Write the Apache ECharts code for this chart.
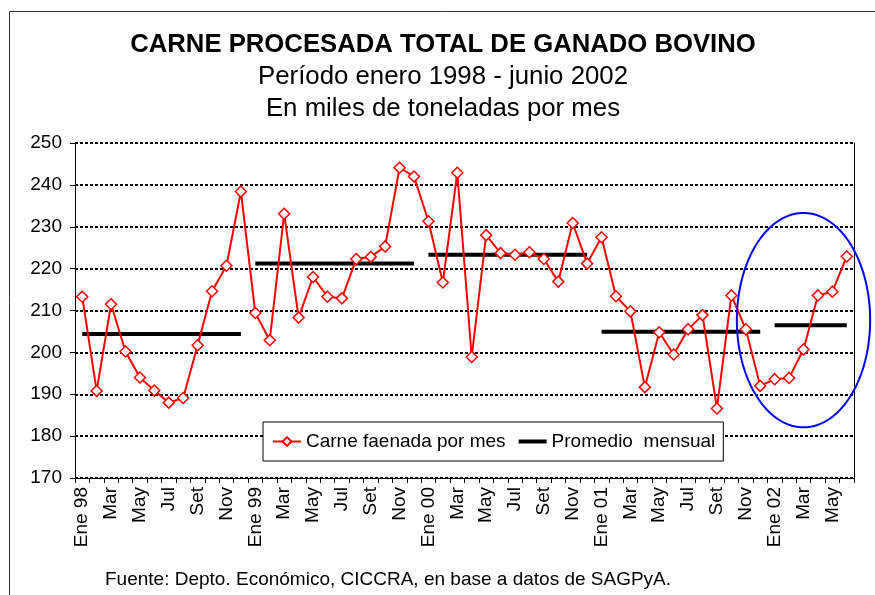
<!DOCTYPE html>
<html>
<head>
<meta charset="utf-8">
<script src="https://cdn.jsdelivr.net/npm/echarts@6/dist/echarts.min.js"></script>
<style>
html,body{margin:0;padding:0;background:#fff;}
#main{width:875px;height:595px;}
</style>
</head>
<body>
<div id="main"></div>
<script>
// ---- Data ----
const monthNames = ['Ene','Feb','Mar','Abr','May','Jun','Jul','Ago','Set','Oct','Nov','Dic'];
const years = ['98','99','00','01','02'];
const monthsInLastYear = 6;

const carneFaenada = [
  213.3,190.8,211.5,200.2,194.0,190.9,188.0,189.1,201.7,214.6,220.7,238.4,
  209.4,202.9,233.1,208.3,218.0,213.3,212.9,222.3,222.8,225.3,244.1,242.0,
  231.3,216.7,242.9,198.9,228.0,223.7,223.3,223.9,222.3,216.9,230.9,221.2,
  227.5,213.4,209.8,191.7,204.8,199.5,205.5,208.9,186.6,213.6,205.5,192.0,
  193.6,193.9,200.7,213.6,214.5,222.9
];
const promedioMensual = [204.4, 221.2, 223.3, 204.9, 206.5];

const yTicks = [170,180,190,200,210,220,230,240,250];

// Annotation ellipse (data-space centre and radii)
const ellipseCenterIndex = 50;   // Mar 02
const ellipseCenterValue = 207.7;
const ellipseRadiusCats = 4.62;
const ellipseRadiusValue = 25.6;

// ---- Build categories ----
const categories = [];
years.forEach((y, yi) => {
  const n = (yi === years.length - 1) ? monthsInLastYear : 12;
  for (let m = 0; m < n; m++) {
    categories.push(m === 0 ? monthNames[m] + ' ' + y : monthNames[m]);
  }
});

const FONT = "'Liberation Sans', Arial, sans-serif";
const avgName = 'Promedio  mensual';
const serieName = 'Carne faenada por mes';

const avgSeries = promedioMensual.map((v, yi) => {
  const data = categories.map((c, i) => (Math.floor(i / 12) === yi ? v : '-'));
  return {
    name: avgName,
    type: 'line',
    data: data,
    symbol: 'none',
    z: 2,
    color: '#000',
    lineStyle: { color: '#000', width: 4 },
    connectNulls: false
  };
});

const chart = echarts.init(document.getElementById('main'), null, { renderer: 'canvas' });

const option = {
  animation: false,
  backgroundColor: '#fff',
  title: [
    { text: 'CARNE PROCESADA TOTAL DE GANADO BOVINO', left: 438, top: 27, textAlign: 'center',
      textStyle: { fontFamily: FONT, fontSize: 25.7, fontWeight: 'bold', color: '#000' } },
    { text: 'Período enero 1998 - junio 2002', left: 438, top: 59, textAlign: 'center',
      textStyle: { fontFamily: FONT, fontSize: 25.8, fontWeight: 'normal', color: '#000' } },
    { text: 'En miles de toneladas por mes', left: 438, top: 91, textAlign: 'center',
      textStyle: { fontFamily: FONT, fontSize: 25.8, fontWeight: 'normal', color: '#000' } },
    { text: 'Fuente: Depto. Económico, CICCRA, en base a datos de SAGPyA.', left: 100, top: 565,
      textStyle: { fontFamily: FONT, fontSize: 19, fontWeight: 'normal', color: '#000' } }
  ],
  legend: {
    data: [
      { name: serieName },
      { name: avgName, icon: 'path://M0,0H28V4H0Z' }
    ],
    left: 263, top: 422,
    padding: [10, 8, 10, 9],
    itemGap: 13,
    itemWidth: 28, itemHeight: 11,
    backgroundColor: '#fff',
    borderColor: '#000', borderWidth: 1,
    textStyle: { fontFamily: FONT, fontSize: 19, color: '#000' }
  },
  grid: { left: 75, right: 21, top: 143, bottom: 117, containLabel: false },
  xAxis: {
    type: 'category',
    data: categories,
    boundaryGap: true,
    axisLine: { lineStyle: { color: '#000', width: 1 } },
    axisTick: { show: true, interval: 0, length: 5, lineStyle: { color: '#000' } },
    axisLabel: { interval: 1, rotate: 90, margin: 9, fontFamily: FONT, fontSize: 19, color: '#000' },
    splitLine: { show: false }
  },
  yAxis: [{
    type: 'value',
    min: yTicks[0], max: yTicks[yTicks.length - 1], interval: 10,
    axisLine: { show: true, lineStyle: { color: '#000', width: 1 } },
    axisTick: { show: true, length: 5, lineStyle: { color: '#000' } },
    axisLabel: { margin: 13, fontFamily: FONT, fontSize: 19, color: '#000' },
    splitLine: { show: true, lineStyle: { color: '#000', width: 2, type: [3, 2] } }
  }, {
    type: 'value', position: 'right',
    min: yTicks[0], max: yTicks[yTicks.length - 1], interval: 10,
    axisLine: { show: true, lineStyle: { color: '#000', width: 1 } },
    axisTick: { show: false }, axisLabel: { show: false }, splitLine: { show: false }
  }],
  series: avgSeries.concat([{
    name: serieName,
    type: 'line',
    data: carneFaenada,
    z: 3,
    color: '#ff0000',
    symbol: 'diamond',
    symbolSize: [11, 11],
    showAllSymbol: true,
    lineStyle: { color: '#ff0000', width: 2 },
    itemStyle: { color: '#ffffff', borderColor: '#ff0000', borderWidth: 1.5 }
  }])
};

chart.setOption(option);

// Annotation ellipse & outer frame
const c = chart.convertToPixel({ xAxisIndex: 0, yAxisIndex: 0 }, [ellipseCenterIndex, ellipseCenterValue]);
const p1 = chart.convertToPixel({ xAxisIndex: 0, yAxisIndex: 0 }, [0, ellipseCenterValue + ellipseRadiusValue]);
const p2 = chart.convertToPixel({ xAxisIndex: 0, yAxisIndex: 0 }, [1, ellipseCenterValue]);
const rx = ellipseRadiusCats * (p2[0] - p1[0]);
const ry = c[1] - p1[1];
const pts = [];
for (let k = 0; k < 180; k++) {
  const t = k / 180 * Math.PI * 2;
  pts.push([c[0] + rx * Math.cos(t), c[1] + ry * Math.sin(t)]);
}
chart.setOption({
  graphic: [
    { type: 'polygon', shape: { points: pts }, z: 10,
      style: { fill: 'none', stroke: '#0000ff', lineWidth: 2 } },
    { type: 'rect', shape: { x: 9.5, y: 11.5, width: 900, height: 700 }, z: -1, silent: true,
      style: { fill: 'none', stroke: '#333', lineWidth: 1 } }
  ]
});
</script>
</body>
</html>
